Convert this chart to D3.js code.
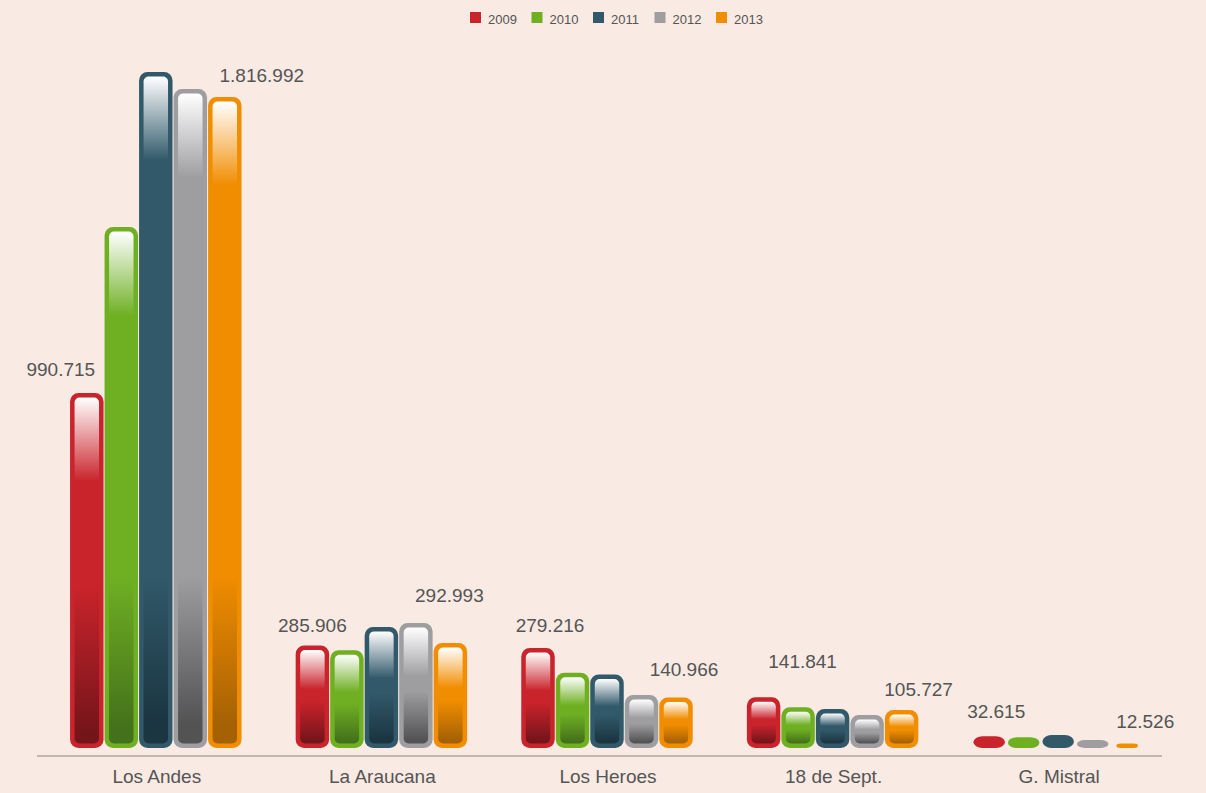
<!DOCTYPE html>
<html lang="es">
<head>
    <meta charset="UTF-8">
    <title>Afiliados por caja</title>
    <script src="https://cdnjs.cloudflare.com/ajax/libs/d3/7.8.5/d3.min.js"></script>
    <style>
        body {
            margin: 0;
            padding: 0;
            background-color: #f9eae3;
            font-family: "Liberation Sans", Arial, Helvetica, sans-serif;
        }
        #chart {
            width: 1206px;
            height: 793px;
        }
        .value-label, .cat-label {
            fill: #555;
            font-size: 19px;
        }
        .legend-text {
            fill: #555;
            font-size: 13px;
        }
    </style>
</head>
<body>
    <div id="chart"></div>

    <script>
        // Data
        const categories = ['Los Andes', 'La Araucana', 'Los Heroes', '18 de Sept.', 'G. Mistral'];
        const years = ['2009', '2010', '2011', '2012', '2013'];

        const v2009 = [990715, 285906, 279216, 141841, 32615];
        const v2010 = [1454000, 273000, 210000, 114000, 30000];
        const v2011 = [1887000, 338000, 205000, 109000, 36000];
        const v2012 = [1839000, 349000, 148000, 92000, 22000];
        const v2013 = [1816992, 292993, 140966, 105727, 12526];
        const series = [v2009, v2010, v2011, v2012, v2013];

        // only first and last year get a label
        const labelledYears = ['2009', '2013'];

        // label nudges (layout only): [dx, dy] from the bar's top centre
        const labelNudge = {
            '2009': [[-26, -24], [0, -20], [12, -23], [39, -36], [7, -25]],
            '2013': [[37, -22], [-1, -48], [8, -28], [17, -21], [18, -22]]
        };

        const colors = ['#c9232b', '#6fb023', '#31596a', '#9e9ea1', '#f18d00'];
        const darks = ['#74151a', '#44711b', '#1b3541', '#535354', '#a56104'];

        const width = 1206, height = 793;
        const baseY = 748;

        const svg = d3.select('#chart')
            .append('svg')
            .attr('width', width)
            .attr('height', height);

        const defs = svg.append('defs');

        const x0 = d3.scaleBand()
            .domain(categories)
            .range([43, 1171])
            .paddingInner(0.24)
            .paddingOuter(0.12);

        const x1 = d3.scaleBand()
            .domain(years)
            .range([0, x0.bandwidth()])
            .paddingInner(0.03);

        const y = d3.scaleLinear()
            .domain([0, 1816992])
            .range([baseY, 97]);

        // Legend
        const legend = svg.append('g').attr('class', 'legend');
        years.forEach((yr, i) => {
            const g = legend.append('g').attr('transform', `translate(${470 + i * 61.5},12)`);
            g.append('rect').attr('width', 11).attr('height', 11).attr('fill', colors[i]);
            g.append('text')
                .attr('class', 'legend-text')
                .attr('x', 18)
                .attr('y', 11.5)
                .text(yr);
        });

        // Bars
        const bars = [];
        categories.forEach((cat, ci) => {
            years.forEach((yr, si) => {
                bars.push({ cat, ci, yr, si, value: series[si][ci] });
            });
        });

        const barG = svg.append('g').attr('class', 'bars');
        const border = 4.5;

        bars.forEach((d, k) => {
            const bx = x0(d.cat) + x1(d.yr);
            const bw = x1.bandwidth();
            const top = y(d.value);
            const h = baseY - top;
            const g = barG.append('g');

            if (h < 14) {
                // tiny bar: solid pill
                const ph = Math.max(h, 2.5);
                const inset = h < 6 ? 6 : 1;
                g.append('rect')
                    .attr('x', bx + inset)
                    .attr('y', baseY - ph)
                    .attr('width', bw - 2 * inset)
                    .attr('height', ph)
                    .attr('rx', Math.min(ph, 9))
                    .attr('ry', ph / 2)
                    .attr('fill', colors[d.si]);
                return;
            }

            const ih = h - 2 * border;
            const fadeEnd = Math.min(84 / ih, 0.42);
            const darkStart = Math.max(1 - 168 / ih, 0.55);

            const gid = 'grad' + k;
            const grad = defs.append('linearGradient')
                .attr('id', gid)
                .attr('x1', 0).attr('y1', 0)
                .attr('x2', 0).attr('y2', 1);
            grad.append('stop').attr('offset', 0).attr('stop-color', '#ffffff');
            grad.append('stop').attr('offset', fadeEnd * 0.45)
                .attr('stop-color', d3.interpolateRgb('#ffffff', colors[d.si])(0.45));
            grad.append('stop').attr('offset', fadeEnd).attr('stop-color', colors[d.si]);
            grad.append('stop').attr('offset', darkStart).attr('stop-color', colors[d.si]);
            grad.append('stop').attr('offset', 0.97).attr('stop-color', darks[d.si]);
            grad.append('stop').attr('offset', 1).attr('stop-color', darks[d.si]);

            g.append('rect')
                .attr('x', bx)
                .attr('y', top)
                .attr('width', bw)
                .attr('height', h)
                .attr('rx', 8.5)
                .attr('fill', colors[d.si]);

            g.append('rect')
                .attr('x', bx + border)
                .attr('y', top + border)
                .attr('width', bw - 2 * border)
                .attr('height', ih)
                .attr('rx', 5)
                .attr('fill', `url(#${gid})`);
        });

        // Value labels
        const fmt = v => d3.format(',')(v).replace(/,/g, '.');
        labelledYears.forEach(yr => {
            const si = years.indexOf(yr);
            categories.forEach((cat, ci) => {
                const v = series[si][ci];
                const nudge = labelNudge[yr][ci];
                svg.append('text')
                    .attr('class', 'value-label')
                    .attr('x', x0(cat) + x1(yr) + x1.bandwidth() / 2 + nudge[0])
                    .attr('y', y(v) + nudge[1])
                    .attr('dy', '0.35em')
                    .attr('text-anchor', 'middle')
                    .text(fmt(v));
            });
        });

        // Axis line and category labels
        svg.append('line')
            .attr('x1', 37).attr('x2', 1162)
            .attr('y1', 756).attr('y2', 756)
            .attr('stroke', '#8a8583')
            .attr('stroke-width', 1.2);

        svg.append('g')
            .selectAll('text')
            .data(categories)
            .enter().append('text')
            .attr('class', 'cat-label')
            .attr('x', d => x0(d) + x0.bandwidth() / 2 + 1)
            .attr('y', 776)
            .attr('dy', '0.35em')
            .attr('text-anchor', 'middle')
            .text(d => d);
    </script>
</body>
</html>
